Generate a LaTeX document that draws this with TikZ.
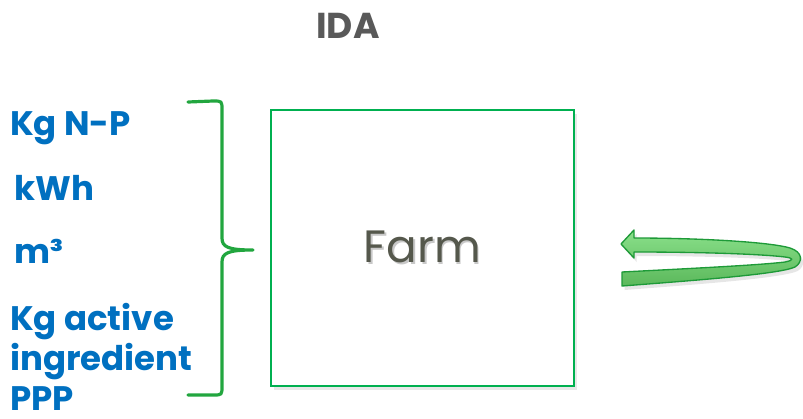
\documentclass[tikz,border=0pt]{standalone}
\usepackage{fontspec}
\setmainfont{Poppins}
\usetikzlibrary{shadows}
\definecolor{idagray}{HTML}{595959}
\definecolor{unitblue}{HTML}{0070C0}
\definecolor{boxgreen}{HTML}{00B050}
\definecolor{bracegreen}{HTML}{22A63F}
\definecolor{farmgray}{HTML}{55584C}
\definecolor{farmshade}{HTML}{C8C8C8}
\definecolor{arrowlight}{HTML}{8AE08A}
\definecolor{arrowdark}{HTML}{5BB85B}
\definecolor{arrowedge}{HTML}{1E9A38}
\tikzset{
  unit/.style={anchor=base west, inner sep=0pt, text=unitblue, font=\fontsize{25.5}{30}\selectfont\bfseries},
  farmbox/.style={draw=boxgreen, line width=1.5pt, fill=white, minimum width=303*0.75pt, minimum height=276*0.75pt, inner sep=0pt,
    drop shadow={opacity=0.18, shadow xshift=2.5pt, shadow yshift=-3pt}},
  bracestyle/.style={draw=bracegreen, line width=2.4pt, line cap=round, line join=round},
  arrowshape/.style={draw=arrowedge, line width=1pt, line join=round, top color=arrowlight, bottom color=arrowdark,
    drop shadow={opacity=0.2, shadow xshift=2pt, shadow yshift=-3pt}}
}
\begin{document}
\begin{tikzpicture}[x=0.75pt,y=-0.75pt]
\useasboundingbox (0,0) rectangle (803,418);
% title
\node[font=\fontsize{27}{30}\selectfont\bfseries, text=idagray, inner sep=0pt] (ida) at (348,26) {IDA};
% farm box with shadowed label
\node[farmbox, text=farmgray, font=\fontsize{34}{40}\selectfont] (farm) at (422.5,248)
  {\rlap{\kern1.2pt\raisebox{-1.9pt}{\textcolor{farmshade}{Farm}}}Farm};
% units
\node[unit] (u1) at (10,135) {Kg N-P};
\node[unit] (u2) at (14,200) {kWh};
\node[unit] (u3) at (14,263) {m³};
\node[unit] (u4) at (10,330) {Kg active};
\node[unit] (u5) at (10,370) {ingredient};
\node[unit] (u6) at (10,410) {PPP};
% brace
\coordinate (btop) at (188,102);
\coordinate (btip) at (253,250);
\coordinate (bbot) at (188,395);
\draw[bracestyle] (btop) -- (213,101) .. controls (222,101) .. (222,110) -- (222,238)
  .. controls (222,247) and (228,250) .. (btip)
  .. controls (228,250) and (222,253) .. (222,262) -- (222,386)
  .. controls (222,395) .. (213,395) -- (bbot);
% curved arrow
\draw[arrowshape] (621,244) -- (634,230) -- (634,238)
  .. controls (700,238) and (770,242) .. (790,248)
  .. controls (803,252) and (803,262) .. (795,267)
  .. controls (780,274) and (700,280) .. (622,286)
  -- (622,272)
  .. controls (700,268) and (760,265) .. (785,262)
  .. controls (795,260) and (793,258) .. (785,257)
  .. controls (760,254) and (700,252) .. (634,252)
  -- (634,258) -- cycle;
\end{tikzpicture}
\end{document}
